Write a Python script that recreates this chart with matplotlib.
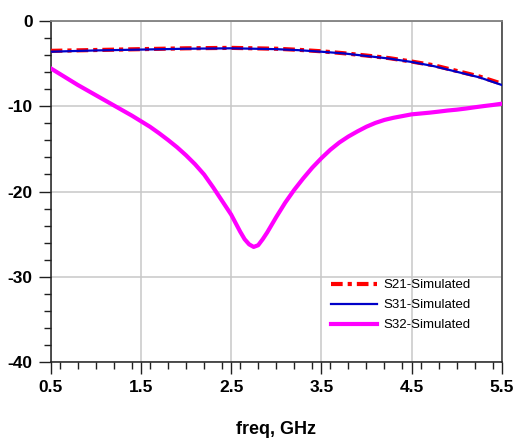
import matplotlib
matplotlib.use("Agg")
import matplotlib.pyplot as plt
from matplotlib.ticker import MultipleLocator

plt.rcParams['axes.unicode_minus'] = False
plt.rcParams['font.family'] = ['Liberation Sans', 'DejaVu Sans']

# S21 / S31 (dB) vs frequency (GHz)
freq_t = [0.5, 1.0, 1.5, 2.0, 2.5, 3.0, 3.25, 3.5, 3.75, 4.0, 4.25, 4.5, 4.75, 5.0, 5.25, 5.5]
s21 = [-3.5, -3.4, -3.3, -3.2, -3.15, -3.25, -3.38, -3.55, -3.78, -4.05, -4.35, -4.75, -5.2, -5.85, -6.5, -7.35]
s31 = [-3.6, -3.45, -3.35, -3.25, -3.2, -3.3, -3.42, -3.6, -3.8, -4.1, -4.4, -4.8, -5.3, -5.95, -6.6, -7.5]

# S32 (dB) vs frequency (GHz)
freq_r = [0.5, 0.6, 0.7, 0.8, 0.9, 1.0, 1.1, 1.2, 1.3, 1.4, 1.5, 1.6, 1.7, 1.8, 1.9, 2.0,
          2.1, 2.2, 2.3, 2.4, 2.5, 2.55, 2.6, 2.65, 2.7, 2.75, 2.8, 2.85, 2.9, 2.95, 3.0,
          3.1, 3.2, 3.3, 3.4, 3.5, 3.6, 3.7, 3.8, 3.9, 4.0, 4.1, 4.2, 4.3, 4.4, 4.5,
          4.6, 4.7, 4.8, 4.9, 5.0, 5.1, 5.2, 5.3, 5.4, 5.5]
s32 = [-5.55, -6.2, -6.85, -7.5, -8.1, -8.7, -9.3, -9.9, -10.5, -11.1, -11.75, -12.4, -13.15, -13.95, -14.8, -15.75,
       -16.8, -18.0, -19.5, -21.1, -22.7, -23.7, -24.7, -25.6, -26.2, -26.5, -26.3, -25.6, -24.8, -23.9, -23.0,
       -21.3, -19.8, -18.45, -17.2, -16.1, -15.1, -14.25, -13.55, -12.95, -12.4, -11.95, -11.6, -11.35, -11.15, -10.95,
       -10.85, -10.75, -10.63, -10.5, -10.4, -10.27, -10.12, -9.98, -9.85, -9.7]

labels = ['S21-Simulated', 'S31-Simulated', 'S32-Simulated']
x_ticks = [0.5, 1.5, 2.5, 3.5, 4.5, 5.5]
y_ticks = [0, -10, -20, -30, -40]

fig = plt.figure(figsize=(5.16, 4.38), dpi=100)
ax = fig.add_axes([0.0983, 0.1735, 0.9723 - 0.0983, 0.952 - 0.1735])

ax.plot(freq_t, s21, color='#FF0000', lw=3.0, linestyle=(0, (2.8, 1.2, 1.0, 1.2)), label=labels[0], zorder=3)
ax.plot(freq_t, s31, color='#0000C8', lw=1.6, label=labels[1], zorder=4)
ax.plot(freq_r, s32, color='#FF00FF', lw=3.0, label=labels[2], zorder=5, solid_joinstyle='round')

ax.set_xlim(0.5, 5.5)
ax.set_ylim(-40, 0)
ax.set_xticks(x_ticks)
ax.set_xticklabels([str(v) for v in x_ticks])
ax.set_yticks(y_ticks)
ax.set_yticklabels([str(v) for v in y_ticks])
ax.xaxis.set_minor_locator(MultipleLocator(0.2))
ax.yaxis.set_minor_locator(MultipleLocator(2))

ax.grid(True, which='major', color='#C8C8C8', lw=1.1)
ax.set_axisbelow(True)

ax.tick_params(which='major', direction='out', length=8.5, width=1.0, color='#202020', pad=4.5,
               labelsize=12.5)
ax.tick_params(which='minor', direction='out', length=5, width=1.0, color='#202020')
for lab in ax.get_xticklabels() + ax.get_yticklabels():
    lab.set_fontweight('bold')

for side in ['left', 'bottom']:
    ax.spines[side].set_color('#202020')
    ax.spines[side].set_linewidth(1.1)
ax.spines['top'].set_color('#808080')
ax.spines['top'].set_linewidth(1.3)
ax.spines['right'].set_color('#505050')
ax.spines['right'].set_linewidth(1.3)

ax.set_xlabel('freq, GHz', fontsize=13, fontweight='bold', labelpad=19)

ax.legend(loc='upper left', bbox_to_anchor=(0.6215, 0.243), frameon=False, borderpad=0,
          borderaxespad=0, handlelength=3.5, handletextpad=0.45, labelspacing=0.58,
          fontsize=9.5)

fig.savefig('out.png', dpi=100)
